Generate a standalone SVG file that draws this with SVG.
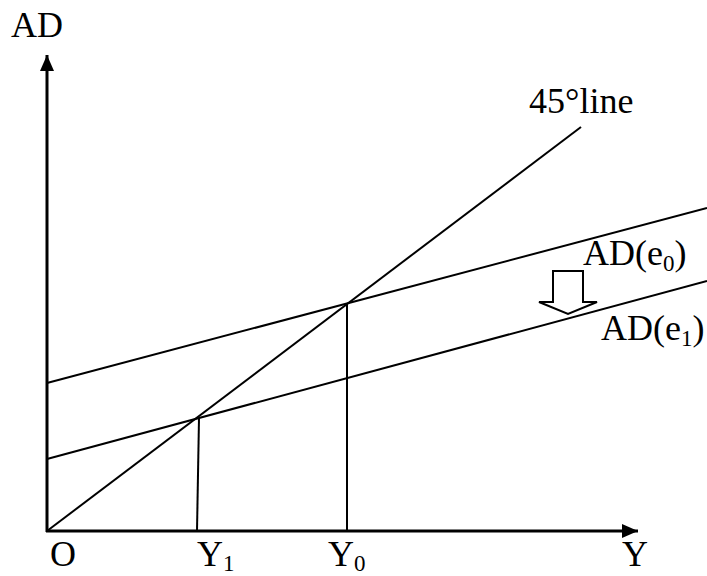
<svg xmlns="http://www.w3.org/2000/svg" width="707" height="576" viewBox="0 0 707 576">
<style>
text{font-family:"Liberation Serif","Times New Roman",serif;font-size:36px;fill:#000}
.sub{font-size:23px}
.ln{stroke:#000;stroke-width:2;fill:none}
.ax{stroke:#000;stroke-width:3;fill:none}
</style>
<defs>
<marker id="ah" markerWidth="16" markerHeight="14" refX="16" refY="7" orient="auto" markerUnits="userSpaceOnUse">
<path d="M0,0 L16,7 L0,14 Z" fill="#000"/>
</marker>
</defs>
<rect width="707" height="576" fill="#fff"/>
<g id="axes">
<line class="ax" x1="47" y1="532" x2="47" y2="55" marker-end="url(#ah)"/>
<line class="ax" x1="46" y1="531" x2="638" y2="531" marker-end="url(#ah)"/>
</g>
<g id="connectors">
<line id="line45" class="ln" x1="47" y1="531" x2="581" y2="127"/>
<line id="ade0" class="ln" x1="47" y1="383" x2="707" y2="208"/>
<line id="ade1" class="ln" x1="47" y1="459" x2="707" y2="281"/>
<line id="y0line" class="ln" x1="347" y1="303" x2="347" y2="531"/>
<line id="y1line" class="ln" x1="199" y1="418" x2="197" y2="531"/>
</g>
<g id="shift-arrow">
<path class="ln" d="M553,271 L583,271 L583,302 L597,302 L568,314 L539,302 L553,302 Z" fill="#fff"/>
</g>
<g id="labels">
<text x="11" y="37">AD</text>
<text x="529" y="113">45°line</text>
<text x="583" y="265">AD(e<tspan class="sub" dy="6">0</tspan><tspan dy="-6">)</tspan></text>
<text x="601" y="340">AD(e<tspan class="sub" dy="6">1</tspan><tspan dy="-6">)</tspan></text>
<text x="50" y="566">O</text>
<text x="197" y="566">Y<tspan class="sub" dy="5">1</tspan></text>
<text x="328" y="566">Y<tspan class="sub" dy="5">0</tspan></text>
<text x="622" y="566">Y</text>
</g>
</svg>
